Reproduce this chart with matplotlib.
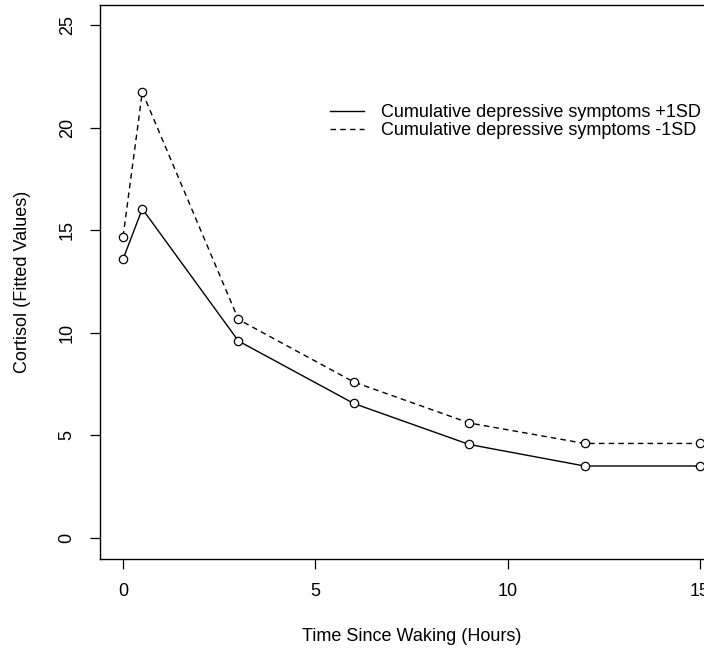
import numpy as np
import matplotlib
matplotlib.use("Agg")
import matplotlib.pyplot as plt

# Data
hours = [0, 0.5, 3, 6, 9, 12, 15]
plus_1sd = [13.6, 16.05, 9.6, 6.55, 4.55, 3.5, 3.5]
minus_1sd = [14.7, 21.75, 10.65, 7.6, 5.6, 4.6, 4.6]
labels = ["Cumulative depressive symptoms +1SD",
          "Cumulative depressive symptoms -1SD"]
xticks = [0, 5, 10, 15]
yticks = [0, 5, 10, 15, 20, 25]

plt.rcParams["font.family"] = ["Liberation Sans", "DejaVu Sans"]
plt.rcParams["font.size"] = 13

W, H = 704, 650
fig = plt.figure(figsize=(W / 100, H / 100), dpi=100)
# axes box: left 100px, top 5px, bottom 559px, right runs past the crop
ax = fig.add_axes([100 / W, (H - 559) / H, (723 - 100) / W, (559 - 5) / H])

style = dict(color="black", lw=1.0, marker="o", markersize=6,
             markerfacecolor="white", markeredgecolor="black", markeredgewidth=0.9)
ax.plot(hours, plus_1sd, ls="-", label=labels[0], **style)
ax.plot(hours, minus_1sd, ls=(0, (4, 3)), label=labels[1], **style)

ax.set_xlim(-0.6, 15.6)
ax.set_ylim(-1.04, 26.0)
ax.set_xticks(xticks)
ax.set_yticks(yticks)
ax.set_yticklabels([str(v) for v in yticks], rotation=90, va="center")
ax.tick_params(direction="out", length=7.5, width=0.9, pad=10, labelsize=13)
for s in ax.spines.values():
    s.set_linewidth(1.0)

ax.set_xlabel("Time Since Waking (Hours)", fontsize=13, labelpad=20)
ax.set_ylabel("Cortisol (Fitted Values)", fontsize=13, labelpad=20)

ax.legend(loc="upper left", bbox_to_anchor=(321 / W, 1 - 95 / H),
          bbox_transform=fig.transFigure, frameon=False, fontsize=13,
          handlelength=1.9, handletextpad=0.95, labelspacing=0.05,
          borderpad=0, markerscale=0)

fig.savefig("out.png", dpi=100)
